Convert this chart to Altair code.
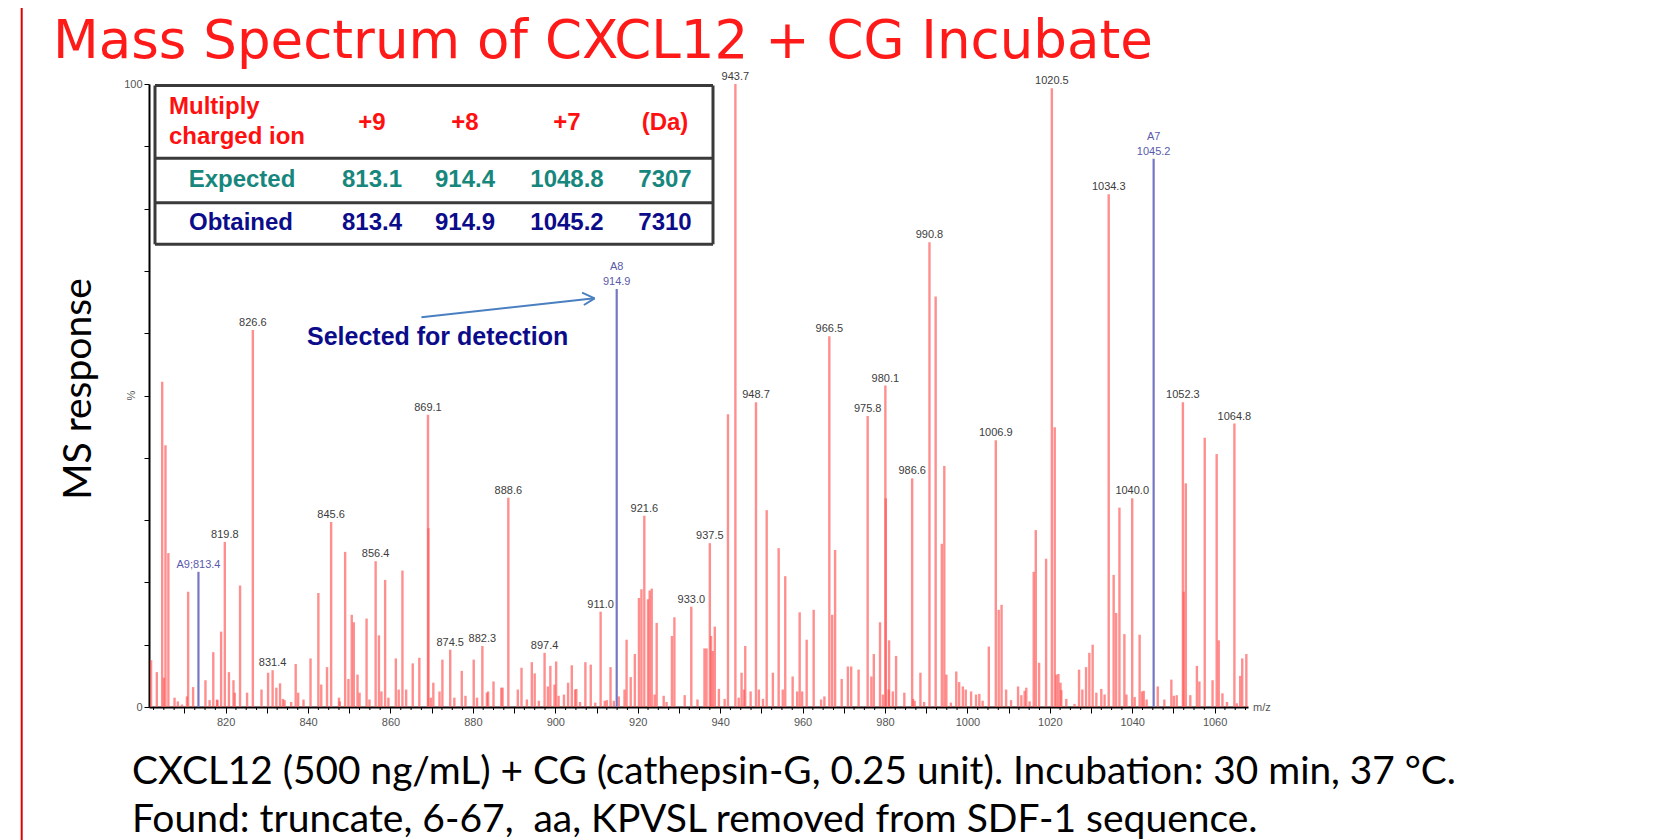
import altair as alt
import pandas as pd

# ---------------- data ----------------
red_mz = [801.9, 803.3, 804.6, 805.0, 805.4, 806.1, 807.6, 808.4, 809.4, 810.6, 810.9, 812.1,
          815.1, 816.1, 817.0, 817.9, 818.0, 818.9, 819.8, 820.8, 821.9, 822.2, 823.5, 825.2,
          826.6, 828.7, 830.3, 831.4, 832.3, 833.2, 833.9, 834.3, 835.9, 837.0, 837.6, 838.9,
          840.6, 842.5, 843.2, 844.6, 845.6, 847.5, 847.7, 849.0, 849.8, 850.6, 851.1, 852.0,
          852.5, 854.2, 854.9, 856.4, 857.2, 857.8, 858.7, 859.5, 861.3, 862.0, 862.9, 863.8,
          865.4, 867.0, 869.1, 869.2, 869.8, 870.4, 871.9, 872.6, 874.5, 875.5, 877.3, 878.2,
          880.2, 881.0, 882.3, 883.4, 883.7, 885.0, 886.9, 887.2, 888.6, 890.9, 891.8, 893.1,
          894.3, 895.0, 896.0, 897.4, 898.2, 898.8, 899.8, 900.2, 900.8, 902.1, 903.1, 904.0,
          904.8, 905.1, 906.0, 907.3, 908.6, 909.7, 911.0, 912.0, 912.5, 913.4, 914.2, 915.4,
          916.8, 917.3, 918.3, 919.3, 920.3, 920.9, 921.6, 922.5, 922.9, 923.4, 924.1, 924.6,
          926.3, 927.0, 928.3, 928.9, 931.4, 933.0, 934.5, 936.2, 936.7, 937.5, 937.8, 938.2,
          938.7, 939.7, 941.1, 941.9, 943.7, 944.5, 945.2, 945.8, 946.1, 947.4, 948.7, 949.4,
          950.4, 951.3, 952.8, 954.2, 955.2, 955.8, 957.6, 958.7, 959.3, 959.9, 961.0, 962.7,
          964.5, 965.3, 966.5, 967.2, 967.9, 969.5, 971.0, 971.8, 973.6, 975.8, 976.7, 977.3,
          978.8, 979.5, 980.1, 980.2, 980.9, 981.0, 981.9, 982.7, 984.7, 986.6, 986.8, 987.2,
          988.6, 989.5, 990.8, 992.3, 993.8, 994.4, 994.9, 996.0, 997.3, 998.0, 998.9, 999.6,
          1000.9, 1002.1, 1002.9, 1003.7, 1005.2, 1006.9, 1007.6, 1008.3, 1009.4, 1010.6, 1012.3,
          1013.1, 1013.9, 1014.3, 1015.1, 1016.1, 1016.6, 1017.4, 1019.1, 1020.5, 1021.2, 1021.6,
          1022.1, 1022.6, 1022.8, 1024.0, 1026.0, 1027.1, 1027.9, 1028.8, 1029.6, 1030.4, 1031.3,
          1032.5, 1033.3, 1034.3, 1035.5, 1036.1, 1036.9, 1038.1, 1038.6, 1040.0, 1040.6, 1041.8,
          1042.4, 1042.8, 1043.5, 1046.2, 1047.8, 1049.5, 1050.1, 1050.8, 1052.3, 1052.5, 1053.0,
          1054.1, 1055.7, 1056.3, 1057.6, 1059.5, 1060.5, 1061.0, 1061.9, 1063.0, 1064.8, 1065.4,
          1066.2, 1066.7, 1067.7]
red_int = [7.5, 5.6, 52.2, 4.7, 42.0, 24.7, 1.5, 0.9, 0.4, 1.7, 18.5, 3.2,
           4.3, 1.1, 8.8, 1.2, 1.1, 12.1, 26.5, 5.6, 4.3, 2.3, 19.5, 2.3,
           60.5, 2.8, 5.5, 5.9, 3.1, 3.8, 1.3, 1.1, 0.8, 6.9, 2.3, 1.2,
           7.8, 18.3, 3.6, 6.4, 29.7, 1.5, 0.9, 24.9, 4.5, 14.8, 13.6, 5.2,
           2.3, 14.2, 1.2, 23.4, 11.5, 2.5, 20.4, 1.5, 7.8, 2.8, 21.9, 2.8,
           7.0, 7.9, 46.9, 28.7, 1.5, 3.9, 2.5, 7.6, 9.2, 1.5, 5.8, 1.8,
           7.6, 1.5, 9.8, 2.3, 2.5, 4.1, 3.1, 3.1, 33.6, 2.8, 6.3, 1.2,
           7.2, 5.4, 1.0, 8.7, 3.3, 6.6, 3.6, 7.3, 1.8, 2.0, 3.9, 6.7,
           2.8, 2.9, 0.8, 7.2, 6.8, 0.7, 15.3, 1.0, 1.1, 6.4, 1.0, 1.7,
           2.8, 10.8, 4.8, 8.5, 17.5, 18.9, 30.7, 17.3, 18.7, 19.0, 2.0, 13.5,
           1.8, 0.8, 11.4, 14.4, 1.9, 16.1, 1.2, 9.4, 9.4, 26.3, 11.4, 9.0,
           12.9, 2.9, 1.3, 47.0, 100.0, 1.5, 5.5, 2.8, 9.8, 2.5, 48.9, 2.8,
           1.3, 31.6, 5.5, 25.5, 2.8, 21.0, 4.9, 2.5, 15.2, 2.5, 10.8, 15.6,
           1.2, 1.7, 59.5, 14.8, 25.2, 4.5, 6.5, 6.5, 6.0, 46.7, 4.9, 8.5,
           13.6, 2.0, 51.6, 33.5, 2.8, 10.7, 2.5, 8.2, 2.3, 36.7, 1.3, 1.0,
           5.5, 0.8, 74.6, 65.9, 26.2, 38.7, 5.2, 0.7, 5.7, 4.0, 3.3, 2.8,
           2.5, 2.0, 2.1, 1.0, 9.7, 42.8, 15.6, 16.4, 2.8, 1.1, 3.3,
           1.9, 2.6, 3.1, 0.9, 21.7, 28.4, 7.1, 23.8, 99.3, 44.9, 5.2,
           5.3, 3.9, 2.7, 1.3, 0.5, 6.0, 2.8, 6.4, 8.7, 10.0, 2.3,
           2.9, 2.0, 82.3, 21.2, 15.1, 32.0, 11.7, 2.0, 33.5, 1.6, 11.6,
           2.5, 2.6, 1.2, 3.3, 1.2, 4.4, 1.8, 1.9, 48.9, 18.5, 35.9,
           1.9, 6.6, 4.1, 43.2, 4.3, 40.6, 10.7, 2.2, 0.8, 45.5, 0.6,
           5.0, 7.8, 8.5]

blue_mz = [813.4, 914.9, 1045.2]
blue_int = [21.7, 67.1, 88.0]
blue_name = ["", "A8", "A7"]
blue_text = ["A9;813.4", "914.9", "1045.2"]

label_mz = [819.8, 826.6, 831.4, 845.6, 856.4, 869.1, 874.5, 882.3, 888.6, 897.4, 911.0,
            921.6, 933.0, 937.5, 943.7, 948.7, 966.5, 975.8, 980.1, 986.6, 990.8, 1006.9,
            1020.5, 1034.3, 1040.0, 1052.3, 1064.8]
label_int = [26.5, 60.5, 5.9, 29.7, 23.4, 46.9, 9.2, 9.8, 33.6, 8.7, 15.3,
             30.7, 16.1, 26.3, 100.0, 48.9, 59.5, 46.7, 51.6, 36.7, 74.6, 42.8,
             99.3, 82.3, 33.5, 48.9, 45.5]
label_text = ["819.8", "826.6", "831.4", "845.6", "856.4", "869.1", "874.5", "882.3", "888.6",
              "897.4", "911.0", "921.6", "933.0", "937.5", "943.7", "948.7", "966.5", "975.8",
              "980.1", "986.6", "990.8", "1006.9", "1020.5", "1034.3", "1040.0", "1052.3", "1064.8"]

x_domain = [801.4, 1068.1]
x_major_ticks = list(range(810, 1061, 10))
x_minor_ticks = [802.5, 805, 807.5, 812.5, 815, 817.5, 822.5, 825, 827.5, 832.5, 835, 837.5,
                 842.5, 845, 847.5, 852.5, 855, 857.5, 862.5, 865, 867.5, 872.5, 875, 877.5,
                 882.5, 885, 887.5, 892.5, 895, 897.5, 902.5, 905, 907.5, 912.5, 915, 917.5,
                 922.5, 925, 927.5, 932.5, 935, 937.5, 942.5, 945, 947.5, 952.5, 955, 957.5,
                 962.5, 965, 967.5, 972.5, 975, 977.5, 982.5, 985, 987.5, 992.5, 995, 997.5,
                 1002.5, 1005, 1007.5, 1012.5, 1015, 1017.5, 1022.5, 1025, 1027.5, 1032.5,
                 1035, 1037.5, 1042.5, 1045, 1047.5, 1052.5, 1055, 1057.5, 1062.5, 1065, 1067.5]
y_ticks = list(range(0, 101, 10))

title_text = "Mass Spectrum of CXCL12 + CG Incubate"
y_title = "MS response"
caption1 = "CXCL12 (500 ng/mL) + CG (cathepsin-G, 0.25 unit). Incubation: 30 min, 37 \u00b0C."
caption2 = "Found: truncate, 6-67, \u00a0aa, KPVSL removed from SDF-1 sequence."
table_head = ["+9", "+8", "+7", "(Da)"]
table_expected = ["813.1", "914.4", "1048.8", "7307"]
table_obtained = ["813.4", "914.9", "1045.2", "7310"]

# ---------------- layout ----------------
PL, PT = 141, 76
W, H = 1099, 623
PR = 1645 - PL - W
PB = 832 - PT - H


def px(x):
    return x - 8 - PL


def py(y):
    return y - 8 - PT


one = pd.DataFrame({"k": [0]})


def txt(text, x, y, size, color, font="Liberation Sans", weight="normal",
        align="left", baseline="middle", angle=0):
    return alt.Chart(one).mark_text(
        text=text, font=font, fontSize=size, fontWeight=weight, color=color,
        align=align, baseline=baseline, angle=angle
    ).encode(x=alt.value(px(x)), y=alt.value(py(y)))


def rule(x1, y1, x2, y2, color, width):
    return alt.Chart(one).mark_rule(color=color, strokeWidth=width).encode(
        x=alt.value(px(x1)), y=alt.value(py(y1)), x2=alt.value(px(x2)), y2=alt.value(py(y2)))


peaks = pd.DataFrame({"mz": red_mz, "val": red_int})
bpeaks = pd.DataFrame({"mz": blue_mz, "val": blue_int, "t": blue_text, "n": blue_name})
labels = pd.DataFrame({"mz": label_mz, "val": label_int, "t": label_text})
minor = pd.DataFrame({"mz": x_minor_ticks})

xs = alt.Scale(domain=x_domain, nice=False, zero=False)
ys = alt.Scale(domain=[0, 100], nice=False)

x_enc = alt.X("mz:Q", scale=xs, axis=alt.Axis(
    values=x_major_ticks, labelExpr="datum.value % 20 == 0 ? datum.label : ''",
    format="d", tickSize=6, tickColor="#000", tickWidth=1, domainColor="#000", domainWidth=2,
    labelFont="Liberation Sans", labelFontSize=11, labelColor="#555", labelPadding=3,
    grid=False, title=None))
y_enc = alt.Y("val:Q", scale=ys, axis=alt.Axis(
    values=y_ticks, labelExpr="datum.value == 0 || datum.value == 100 ? datum.label : ''",
    tickSize=5, tickColor="#000", domainColor="#000", domainWidth=2,
    labelFont="Liberation Sans", labelFontSize=11, labelColor="#555", labelPadding=2,
    grid=False, title=None))

red_layer = alt.Chart(peaks).mark_rule(color="#ff5555", strokeWidth=2.4, opacity=0.66).encode(
    x=x_enc, y=y_enc, y2=alt.datum(0))
blue_layer = alt.Chart(bpeaks).mark_rule(color="#7676c4", strokeWidth=2.2).encode(
    x=alt.X("mz:Q", scale=xs), y=alt.Y("val:Q", scale=ys), y2=alt.datum(0))
lab_layer = alt.Chart(labels).mark_text(
    font="Liberation Sans", fontSize=11, color="#3c3c3c", baseline="bottom", dy=-2).encode(
    x=alt.X("mz:Q", scale=xs), y=alt.Y("val:Q", scale=ys), text="t:N")
blab_layer = alt.Chart(bpeaks).mark_text(
    font="Liberation Sans", fontSize=11, color="#5a5aaa", baseline="bottom", dy=-2).encode(
    x=alt.X("mz:Q", scale=xs), y=alt.Y("val:Q", scale=ys), text="t:N")
bname_layer = alt.Chart(bpeaks).mark_text(
    font="Liberation Sans", fontSize=11, color="#5a5aaa", baseline="bottom", dy=-17).encode(
    x=alt.X("mz:Q", scale=xs), y=alt.Y("val:Q", scale=ys), text="n:N")
minor_layer = alt.Chart(minor).mark_rule(color="#000", strokeWidth=1).encode(
    x=alt.X("mz:Q", scale=xs), y=alt.value(H), y2=alt.value(H + 3))

layers = [red_layer, blue_layer, lab_layer, blab_layer, bname_layer, minor_layer]

# slide decorations
layers.append(rule(21.7, 0, 21.7, 840, "#e00000", 2))
layers.append(txt(title_text, 53, 57.5, 53, "#ff1a1a", font="DejaVu Sans", baseline="alphabetic"))
layers.append(txt(y_title, 79, 389, 39, "#000", font="Lato", align="center", angle=270))
layers.append(txt("%", 131.7, 395.7, 11, "#555", align="center", angle=270))
layers.append(txt("m/z", 1253, 708, 11, "#555"))
layers.append(txt(caption1, 132, 784, 38.8, "#000", font="Lato", baseline="alphabetic"))
layers.append(txt(caption2, 132, 832, 39, "#000", font="Lato", baseline="alphabetic"))

# table
TL, TR, TT, T1, T2, TB = 155, 713, 85.5, 158.3, 202.7, 244.3
bc = "#3a3a3a"
for yy in [TT, T1, T2, TB]:
    layers.append(rule(TL, yy, TR, yy, bc, 3))
for xx in [TL, TR]:
    layers.append(rule(xx, TT, xx, TB, bc, 3))
red_c, teal_c, navy_c = "#ff1010", "#17877d", "#0c0c8a"
layers.append(txt("Multiply", 169, 106.7, 24, red_c, weight="bold"))
layers.append(txt("charged ion", 169, 136.7, 24, red_c, weight="bold"))
layers.append(txt("Expected", 242, 180, 24, teal_c, weight="bold", align="center"))
layers.append(txt("Obtained", 241, 223.3, 24, navy_c, weight="bold", align="center"))
col_x = [372, 465, 567, 665]
for cx, h, e, o in zip(col_x, table_head, table_expected, table_obtained):
    layers.append(txt(h, cx, 123.3, 24, red_c, weight="bold", align="center"))
    layers.append(txt(e, cx, 180, 24, teal_c, weight="bold", align="center"))
    layers.append(txt(o, cx, 223.3, 24, navy_c, weight="bold", align="center"))

# annotation arrow + text
ac = "#4a7fc0"
layers.append(rule(421.4, 317.3, 594.6, 298.3, ac, 2))
layers.append(rule(594.6, 298.3, 582.1, 292.7, ac, 2))
layers.append(rule(594.6, 298.3, 583.9, 305.0, ac, 2))
layers.append(txt("Selected for detection", 307, 337.3, 25, navy_c, weight="bold"))

chart = alt.layer(*layers).properties(
    width=W, height=H,
    padding={"left": PL, "top": PT, "right": PR, "bottom": PB},
    autosize=alt.AutoSizeParams(type="none"),
    background="white",
).configure_view(stroke=None)

chart.save("out.html", embed_options={"renderer": "svg", "actions": False})
